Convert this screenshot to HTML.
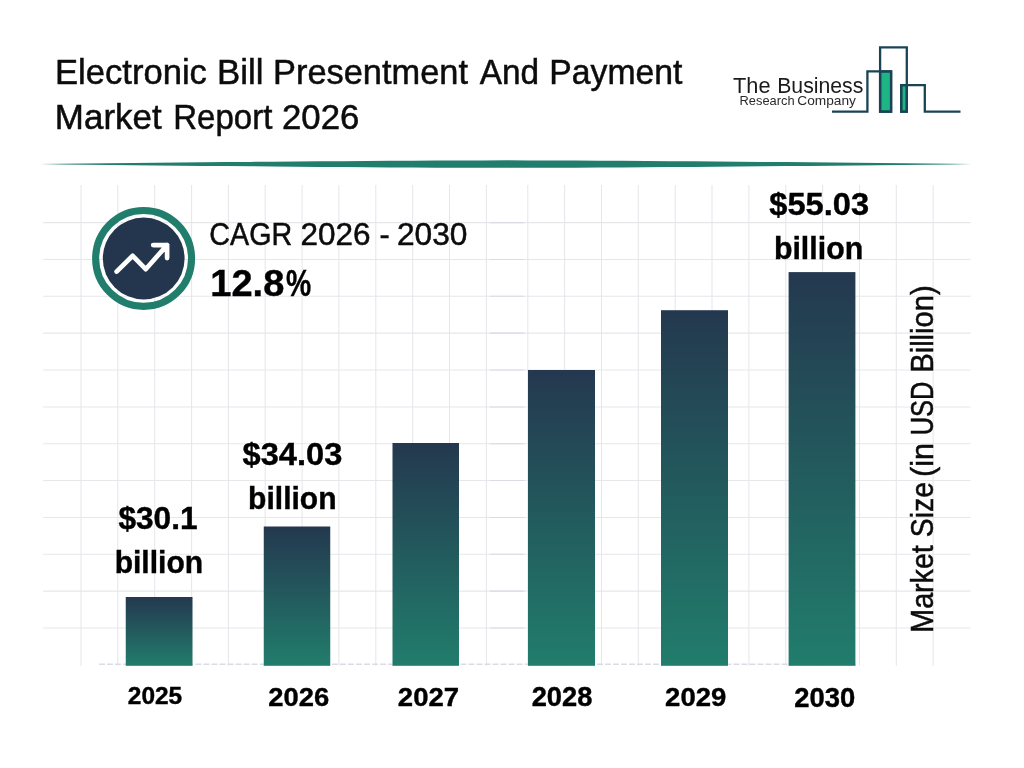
<!DOCTYPE html>
<html lang="en">
<head>
<meta charset="utf-8">
<title>Electronic Bill Presentment And Payment Market Report 2026</title>
<style>
html,body{margin:0;padding:0;background:#fff;}
body{width:1024px;height:768px;overflow:hidden;position:relative;font-family:"Liberation Sans",sans-serif;}
svg{position:absolute;left:0;top:0;display:block;}
text{font-family:"Liberation Sans",sans-serif;}
</style>
</head>
<body>
<svg width="1024" height="768" viewBox="0 0 1024 768">
<defs>
<linearGradient id="bar" x1="0" y1="0" x2="0" y2="1">
<stop offset="0" stop-color="#24384f"/>
<stop offset="1" stop-color="#217d6c"/>
</linearGradient>
</defs>

<g id="grid" stroke="#e5e7eb" stroke-width="1.05" fill="none">
<path d="M43.2 222.6H970.6"/><path d="M490 222.6H524" stroke="#d9dce3"/>
<path d="M43.2 259.4H970.6"/><path d="M490 259.4H524" stroke="#d9dce3"/>
<path d="M43.2 296.3H970.6"/><path d="M490 296.3H524" stroke="#d9dce3"/>
<path d="M43.2 333.1H970.6"/><path d="M490 333.1H524" stroke="#d9dce3"/>
<path d="M43.2 370.0H970.6"/><path d="M490 370.0H524" stroke="#d9dce3"/>
<path d="M43.2 406.9H970.6"/><path d="M490 406.9H524" stroke="#d9dce3"/>
<path d="M43.2 443.7H970.6"/><path d="M490 443.7H524" stroke="#d9dce3"/>
<path d="M43.2 480.5H970.6"/><path d="M490 480.5H524" stroke="#d9dce3"/>
<path d="M43.2 517.4H970.6"/><path d="M490 517.4H524" stroke="#d9dce3"/>
<path d="M43.2 554.2H970.6"/><path d="M490 554.2H524" stroke="#d9dce3"/>
<path d="M43.2 591.1H970.6"/><path d="M490 591.1H524" stroke="#d9dce3"/>
<path d="M43.2 628.0H970.6"/><path d="M490 628.0H524" stroke="#d9dce3"/>
<path d="M81.0 185V665.7"/>
<path d="M117.8 185V665.7"/>
<path d="M154.7 185V665.7"/>
<path d="M191.6 185V665.7"/>
<path d="M228.4 185V665.7"/>
<path d="M265.2 185V665.7"/>
<path d="M302.1 185V665.7"/>
<path d="M338.9 185V665.7"/>
<path d="M375.8 185V665.7"/>
<path d="M412.7 185V665.7"/>
<path d="M449.5 185V665.7"/>
<path d="M486.4 185V665.7"/>
<path d="M527.8 185V665.7"/>
<path d="M564.6 185V665.7"/>
<path d="M601.5 185V665.7"/>
<path d="M638.3 185V665.7"/>
<path d="M675.2 185V665.7"/>
<path d="M712.0 185V665.7"/>
<path d="M748.9 185V665.7"/>
<path d="M785.8 185V665.7"/>
<path d="M822.6 185V665.7"/>
<path d="M859.5 185V665.7"/>
<path d="M896.3 185V665.7"/>
<path d="M933.1 185V665.7"/>
</g>
<path id="dash" d="M99.1 664.3H856" stroke="#d9dce2" stroke-width="1.6" stroke-dasharray="5.9 2.13" fill="none"/>
<path id="rulep" d="M40.0 164.10L63.3 163.82L86.6 163.55L109.9 163.29L133.2 163.03L156.5 162.79L179.8 162.55L203.1 162.32L226.4 162.09L249.7 161.88L273.0 161.68L296.3 161.48L319.6 161.30L342.9 161.13L366.2 160.97L389.5 160.82L412.8 160.69L436.1 160.57L459.4 160.47L482.7 160.39L506.0 160.35L529.3 160.39L552.6 160.47L575.9 160.57L599.2 160.69L622.5 160.82L645.8 160.97L669.1 161.13L692.4 161.30L715.7 161.48L739.0 161.68L762.3 161.88L785.6 162.09L808.9 162.32L832.2 162.55L855.5 162.79L878.8 163.03L902.1 163.29L925.4 163.55L948.7 163.82L972.0 164.10L972.0 164.10L948.7 164.38L925.4 164.65L902.1 164.91L878.8 165.17L855.5 165.41L832.2 165.65L808.9 165.88L785.6 166.11L762.3 166.32L739.0 166.52L715.7 166.72L692.4 166.90L669.1 167.07L645.8 167.23L622.5 167.38L599.2 167.51L575.9 167.63L552.6 167.73L529.3 167.81L506.0 167.85L482.7 167.81L459.4 167.73L436.1 167.63L412.8 167.51L389.5 167.38L366.2 167.23L342.9 167.07L319.6 166.90L296.3 166.72L273.0 166.52L249.7 166.32L226.4 166.11L203.1 165.88L179.8 165.65L156.5 165.41L133.2 165.17L109.9 164.91L86.6 164.65L63.3 164.38L40.0 164.10Z" fill="#217d6c"/>
<g id="bars" fill="url(#bar)">
<rect x="125.75" y="597" width="66.75" height="68.80"/>
<rect x="263.75" y="526.5" width="66.50" height="139.30"/>
<rect x="392.5" y="443" width="66.50" height="222.80"/>
<rect x="528" y="370" width="67.00" height="295.80"/>
<rect x="661" y="310.2" width="67.00" height="355.60"/>
<rect x="788.6" y="272.1" width="66.80" height="393.70"/>
</g>
<g id="icon">
<circle cx="143.6" cy="258.4" r="47.95" fill="none" stroke="#217d6c" stroke-width="7.1"/>
<circle cx="143.7" cy="258.5" r="40.9" fill="#24364d"/>
<path d="M116.6 271.6L132.7 255.8L145.7 269.2L167.1 245.1M153.2 245.1H167.1V258.1" fill="none" stroke="#fff" stroke-width="4.7" stroke-linecap="round" stroke-linejoin="round"/>
</g>
<g id="logo" fill="none" stroke="#1a4456" stroke-width="2.3">
<rect x="880.1" y="71.4" width="11" height="40.3" fill="#1db585"/>
<rect x="901.2" y="85.1" width="5.6" height="26.6" fill="#1db585"/>
<path d="M832 111.7H867.4V71.4H891.1V111.7H880.1V47.4H906.8V111.7H901.2V85.1H924.8V111.7H960.5"/>
</g>
<text id="t1" y="83.70" font-size="34.74" font-weight="400" fill="#0c0c0c" stroke="#0c0c0c" stroke-width="0.5"><tspan id="t1_0" x="54.94" textLength="151.99" lengthAdjust="spacingAndGlyphs">Electronic</tspan> <tspan id="t1_1" x="216.93" textLength="46.48" lengthAdjust="spacingAndGlyphs">Bill</tspan> <tspan id="t1_2" x="273.00" textLength="195.01" lengthAdjust="spacingAndGlyphs">Presentment</tspan> <tspan id="t1_3" x="479.73" textLength="59.33" lengthAdjust="spacingAndGlyphs">And</tspan> <tspan id="t1_4" x="549.31" textLength="133.21" lengthAdjust="spacingAndGlyphs">Payment</tspan></text>
<text id="t2" y="129.00" font-size="34.74" font-weight="400" fill="#0c0c0c" stroke="#0c0c0c" stroke-width="0.5"><tspan id="t2_0" x="54.86" textLength="106.75" lengthAdjust="spacingAndGlyphs">Market</tspan> <tspan id="t2_1" x="173.27" textLength="99.11" lengthAdjust="spacingAndGlyphs">Report</tspan> <tspan id="t2_2" x="282.05" textLength="77.32" lengthAdjust="spacingAndGlyphs">2026</tspan></text>
<text id="cagr" y="244.60" font-size="31.69" font-weight="400" fill="#0c0c0c" stroke="#0c0c0c" stroke-width="0.5"><tspan id="cagr_0" x="209.35" textLength="82.79" lengthAdjust="spacingAndGlyphs">CAGR</tspan> <tspan id="cagr_1" x="300.54" textLength="70.05" lengthAdjust="spacingAndGlyphs">2026</tspan> <tspan id="cagr_2" x="379.55" textLength="10.21" lengthAdjust="spacingAndGlyphs">-</tspan> <tspan id="cagr_3" x="396.97" textLength="70.50" lengthAdjust="spacingAndGlyphs">2030</tspan></text>
<text id="pct" y="296.00" font-size="36.39" font-weight="700" fill="#000" stroke="#000" stroke-width="0.4"><tspan id="pct_0" x="210.32" textLength="73.97" lengthAdjust="spacingAndGlyphs">12.8</tspan><tspan id="pct_1" x="286.04" textLength="25.14" lengthAdjust="spacingAndGlyphs">%</tspan></text>
<text id="v1a" y="528.80" font-size="32.00" font-weight="700" fill="#000" stroke="#000" stroke-width="0.4"><tspan id="v1a_0" x="118.40" textLength="79.18" lengthAdjust="spacingAndGlyphs">$30.1</tspan></text>
<text id="v1b" y="572.90" font-size="32.00" font-weight="700" fill="#000" stroke="#000" stroke-width="0.4"><tspan id="v1b_0" x="114.64" textLength="88.54" lengthAdjust="spacingAndGlyphs">billion</tspan></text>
<text id="v2a" y="464.90" font-size="32.00" font-weight="700" fill="#000" stroke="#000" stroke-width="0.4"><tspan id="v2a_0" x="242.52" textLength="99.75" lengthAdjust="spacingAndGlyphs">$34.03</tspan></text>
<text id="v2b" y="508.75" font-size="32.00" font-weight="700" fill="#000" stroke="#000" stroke-width="0.4"><tspan id="v2b_0" x="248.10" textLength="88.43" lengthAdjust="spacingAndGlyphs">billion</tspan></text>
<text id="v6a" y="214.90" font-size="32.00" font-weight="700" fill="#000" stroke="#000" stroke-width="0.4"><tspan id="v6a_0" x="769.26" textLength="99.79" lengthAdjust="spacingAndGlyphs">$55.03</tspan></text>
<text id="v6b" y="258.75" font-size="32.00" font-weight="700" fill="#000" stroke="#000" stroke-width="0.4"><tspan id="v6b_0" x="773.93" textLength="89.26" lengthAdjust="spacingAndGlyphs">billion</tspan></text>
<text id="x1" y="704.00" font-size="23.64" font-weight="700" fill="#000" stroke="#000" stroke-width="0.4"><tspan id="x1_0" x="127.80" textLength="54.39" lengthAdjust="spacingAndGlyphs">2025</tspan></text>
<text id="x2" y="705.75" font-size="26.15" font-weight="700" fill="#000" stroke="#000" stroke-width="0.4"><tspan id="x2_0" x="268.37" textLength="60.90" lengthAdjust="spacingAndGlyphs">2026</tspan></text>
<text id="x3" y="705.75" font-size="26.15" font-weight="700" fill="#000" stroke="#000" stroke-width="0.4"><tspan id="x3_0" x="397.86" textLength="61.25" lengthAdjust="spacingAndGlyphs">2027</tspan></text>
<text id="x4" y="705.75" font-size="26.86" font-weight="700" fill="#000" stroke="#000" stroke-width="0.4"><tspan id="x4_0" x="531.68" textLength="60.70" lengthAdjust="spacingAndGlyphs">2028</tspan></text>
<text id="x5" y="705.50" font-size="26.50" font-weight="700" fill="#000" stroke="#000" stroke-width="0.4"><tspan id="x5_0" x="665.12" textLength="61.19" lengthAdjust="spacingAndGlyphs">2029</tspan></text>
<text id="x6" y="707.00" font-size="26.86" font-weight="700" fill="#000" stroke="#000" stroke-width="0.4"><tspan id="x6_0" x="794.33" textLength="60.94" lengthAdjust="spacingAndGlyphs">2030</tspan></text>
<text id="lg1" y="92.70" font-size="22.60" font-weight="400" fill="#1b1b1b"><tspan id="lg1_0" x="733.03" textLength="37.52" lengthAdjust="spacingAndGlyphs">The</tspan> <tspan id="lg1_1" x="777.19" textLength="86.17" lengthAdjust="spacingAndGlyphs">Business</tspan></text>
<text id="lg2" y="104.80" font-size="12.35" font-weight="400" fill="#2a2a2a"><tspan id="lg2_0" x="739.50" textLength="55.07" lengthAdjust="spacingAndGlyphs">Research</tspan> <tspan id="lg2_1" x="797.30" textLength="58.69" lengthAdjust="spacingAndGlyphs">Company</tspan></text>
<text id="yl" transform="translate(933.20 630.80) rotate(-90)" font-size="30.52" font-weight="400" fill="#0c0c0c" stroke="#0c0c0c" stroke-width="0.5"><tspan id="yl_0" x="-1.89" textLength="87.47" lengthAdjust="spacingAndGlyphs">Market</tspan> <tspan id="yl_1" x="93.60" textLength="55.12" lengthAdjust="spacingAndGlyphs">Size</tspan> <tspan id="yl_2" x="153.79" textLength="33.98" lengthAdjust="spacingAndGlyphs">(in</tspan> <tspan id="yl_3" x="195.49" textLength="53.75" lengthAdjust="spacingAndGlyphs">USD</tspan> <tspan id="yl_4" x="257.96" textLength="87.68" lengthAdjust="spacingAndGlyphs">Billion)</tspan></text>
</svg>
</body>
</html>
